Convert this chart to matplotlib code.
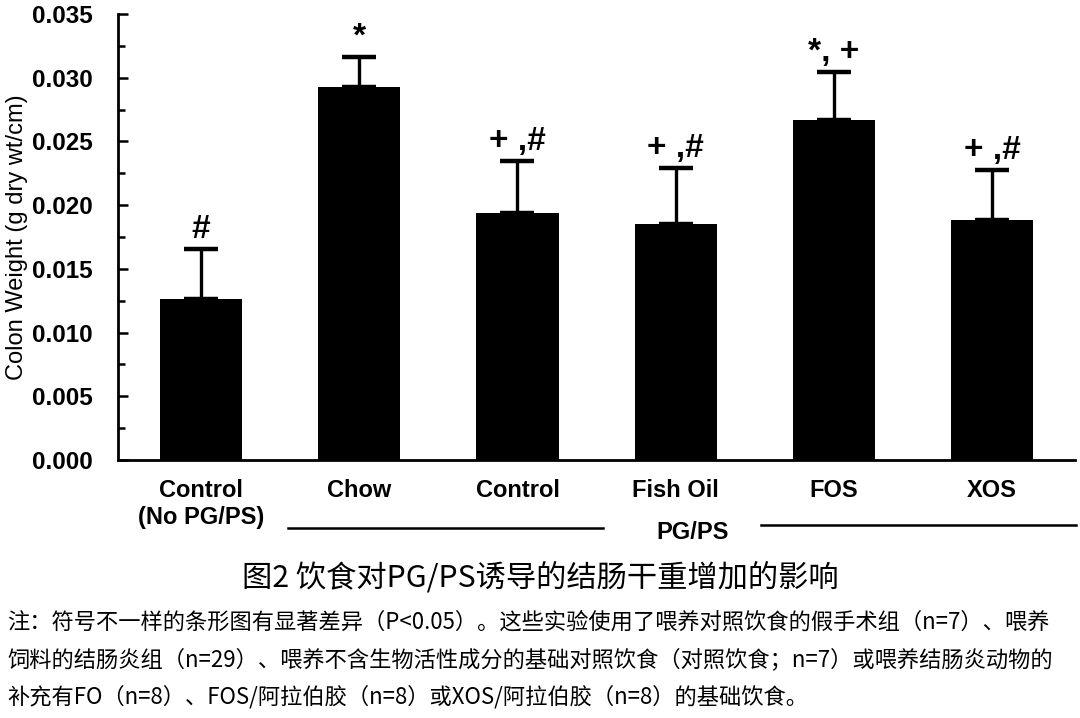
import numpy as np
import matplotlib.pyplot as plt
from matplotlib.ticker import MultipleLocator, FormatStrFormatter

# data
groups = ['Control\n(No PG/PS)', 'Chow', 'Control', 'Fish Oil', 'FOS', 'XOS']
colon_weight = [0.01263, 0.02927, 0.01938, 0.01852, 0.02668, 0.01883]
sem_upper = [0.00393, 0.00236, 0.00408, 0.00440, 0.00377, 0.00389]
sig_marks = ['#', '*', '+ ,#', '+ ,#', '*, +', '+ ,#']
y_ticks = [0.000, 0.005, 0.010, 0.015, 0.020, 0.025, 0.030, 0.035]

title_cn = '图2 饮食对PG/PS诱导的结肠干重增加的影响'
note_lines = [
    '注：符号不一样的条形图有显著差异（P<0.05）。这些实验使用了喂养对照饮食的假手术组（n=7）、喂养',
    '饲料的结肠炎组（n=29）、喂养不含生物活性成分的基础对照饮食（对照饮食；n=7）或喂养结肠炎动物的',
    '补充有FO（n=8）、FOS/阿拉伯胶（n=8）或XOS/阿拉伯胶（n=8）的基础饮食。',
]

sans = 'Liberation Sans'
cjk = ['Noto Sans CJK SC', 'DejaVu Sans']

fig = plt.figure(figsize=(10.8, 7.18), dpi=100)
ax = fig.add_axes([0.1093, 0.3593, 0.8861, 0.6212])

x = np.arange(len(groups))
ax.bar(x, colon_weight, width=0.52, color='black')
ax.errorbar(x, colon_weight, yerr=[np.zeros(len(x)), sem_upper], fmt='none',
            ecolor='black', elinewidth=2.4, capsize=12, capthick=3.2)

for xi, v, e, m in zip(x, colon_weight, sem_upper, sig_marks):
    ax.annotate(m, xy=(xi, v + e), xytext=(0, 3), textcoords='offset points',
                ha='center', va='bottom', fontsize=24, family=sans, weight='bold')

ax.set_xlim(-0.525, 5.525)
ax.set_ylim(0, 0.035)
ax.set_yticks(y_ticks)
ax.yaxis.set_major_formatter(FormatStrFormatter('%.3f'))
ax.yaxis.set_minor_locator(MultipleLocator(0.0025))
ax.tick_params(axis='y', which='major', direction='in', length=7, width=1.8,
               labelsize=17.5, pad=18)
ax.tick_params(axis='y', which='minor', direction='in', length=5, width=1.8)
for lab in ax.get_yticklabels():
    lab.set_family(sans)
    lab.set_weight('bold')

ax.set_xticks(x)
ax.set_xticklabels(groups, fontsize=17, family=sans, weight='bold', linespacing=1.2)
ax.tick_params(axis='x', length=0, pad=14)

ax.set_ylabel('Colon Weight (g dry wt/cm)', fontsize=17, family=sans, labelpad=3)

for s in ['top', 'right']:
    ax.spines[s].set_visible(False)
for s in ['left', 'bottom']:
    ax.spines[s].set_linewidth(2)

# PG/PS bracket under the five colitis groups
trans = ax.get_xaxis_transform()
ax.plot([0.55, 2.54], [-0.152, -0.152], color='black', lw=1.8, transform=trans, clip_on=False)
ax.plot([3.54, 5.53], [-0.145, -0.145], color='black', lw=1.8, transform=trans, clip_on=False)
ax.text(3.11, -0.162, 'PG/PS', transform=trans, ha='center', va='center',
        fontsize=17, family=sans, weight='bold')

fig.text(0.5, 0.195, title_cn, ha='center', va='center', fontsize=21.8, family=cjk)
for i, line in enumerate(note_lines):
    fig.text(0.007, 0.1337 - i * 0.0522, line, ha='left', va='center', fontsize=16, family=cjk)

fig.savefig('out.png', dpi=100)
